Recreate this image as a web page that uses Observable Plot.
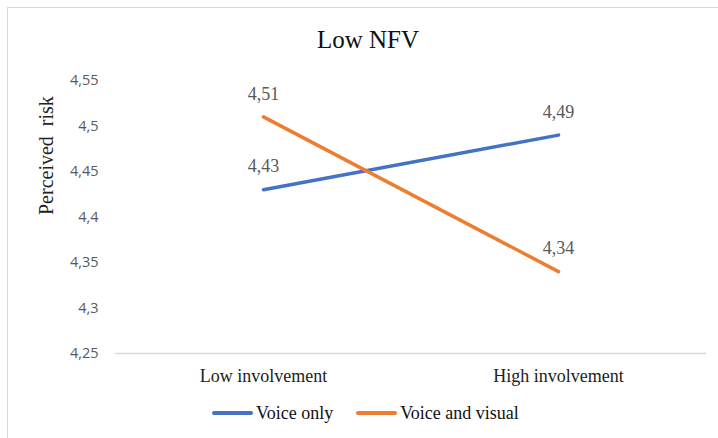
<!DOCTYPE html>
<html>
<head>
<meta charset="utf-8">
<script src="https://cdn.jsdelivr.net/npm/d3@7"></script>
<script src="https://cdn.jsdelivr.net/npm/@observablehq/plot@0.6"></script>
<style>
  html, body { margin: 0; padding: 0; background: #fff; }
  #chart { position: relative; width: 718px; height: 438px; overflow: hidden; background: #fff; }
  #frame { position: absolute; left: 7px; top: 7px; width: 760px; height: 480px; border: 1px solid #d9d9d9; }
  #title { position: absolute; left: 368px; top: 27px; transform: translateX(-50%); white-space: nowrap;
           font-family: "Liberation Serif", serif; font-size: 25px; line-height: 25px; color: #111; }
  #plot { position: absolute; left: 0; top: 60px; }
  #legend { position: absolute; left: 212px; top: 404px; display: flex; align-items: center;
            font-family: "Liberation Serif", serif; font-size: 18px; line-height: 18px; color: #111; white-space: nowrap; }
  .sw { display: inline-block; width: 41px; height: 4px; border-radius: 2px; margin-right: 3px; }
  .item { display: flex; align-items: center; margin-right: 23px; }
</style>
</head>
<body>
<div id="chart">
  <div id="frame"></div>
  <div id="title">Low NFV</div>
  <div id="plot"></div>
  <div id="legend"></div>
</div>
<script>
// Mean perceived risk by involvement level, low need-for-visualisation group
const categories = ["Low involvement", "High involvement"];
const series = ["Voice only", "Voice and visual"];
const voiceOnly = [4.43, 4.49];
const voiceVisual = [4.51, 4.34];
const yTicks = [4.25, 4.3, 4.35, 4.4, 4.45, 4.5, 4.55];
const colors = ["#4472C4", "#ED7D31"];

const rows = [
  ...categories.map((c, i) => ({category: c, series: series[0], value: voiceOnly[i]})),
  ...categories.map((c, i) => ({category: c, series: series[1], value: voiceVisual[i]}))
];

const comma = (v) => String(v).replace(".", ",");
const serif = "Liberation Serif, serif";

const plot = Plot.plot({
  width: 718,
  height: 330,
  marginLeft: 115,
  marginRight: 12,
  marginTop: 20,
  marginBottom: 37,
  style: {background: "transparent", overflow: "visible"},
  x: {type: "point", domain: categories, padding: 0.5},
  y: {domain: [4.25, 4.55]},
  color: {domain: series, range: colors},
  marks: [
    Plot.ruleY([4.25], {stroke: "#d9d9d9", strokeWidth: 1.5}),
    Plot.axisY({
      ticks: yTicks, tickFormat: comma, tickSize: 0, tickPadding: 17, label: null,
      fontFamily: "Open Sans, sans-serif", fontSize: 14.5, fill: "#595959"
    }),
    Plot.axisX({
      tickSize: 0, tickPadding: 16, label: null,
      fontFamily: serif, fontSize: 18, fill: "#222"
    }),
    Plot.text(["Perceived  risk"], {
      frameAnchor: "left", rotate: -90, dx: -69, dy: -2,
      fontFamily: serif, fontSize: 20, fill: "#222"
    }),
    Plot.line(rows, {
      x: "category", y: "value", z: "series", stroke: "series",
      strokeWidth: 3.5, strokeLinecap: "round"
    }),
    Plot.text(rows, {
      x: "category", y: "value", text: (d) => comma(d.value), dy: -23,
      fontFamily: serif, fontSize: 18, fill: "#595959"
    })
  ]
});
document.getElementById("plot").appendChild(plot);

// Legend below the plot
const legend = document.getElementById("legend");
series.forEach((name, i) => {
  const item = document.createElement("span");
  item.className = "item";
  const sw = document.createElement("span");
  sw.className = "sw";
  sw.style.background = colors[i];
  item.appendChild(sw);
  item.appendChild(document.createTextNode(name));
  legend.appendChild(item);
});
</script>
</body>
</html>
